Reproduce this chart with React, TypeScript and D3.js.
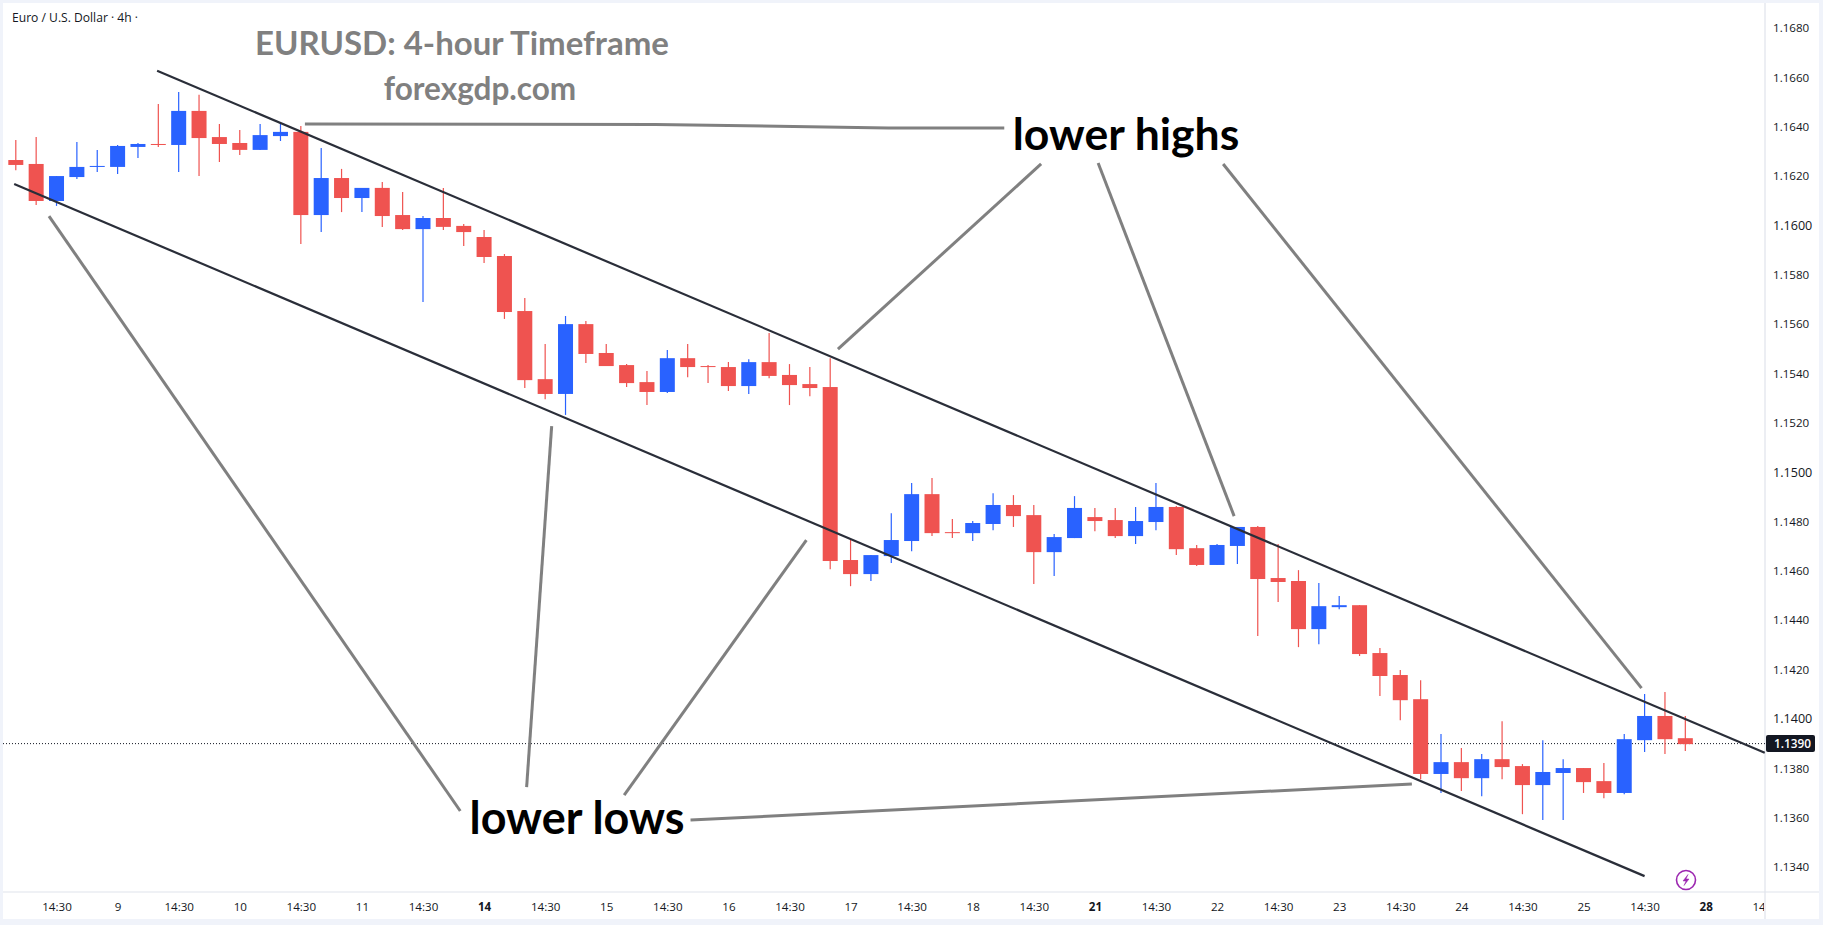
import { useEffect, useRef } from 'react';
import * as d3 from 'd3';

// 4h candles
const opens = [
  1.16265, 1.16249, 1.16099, 1.16196, 1.16237, 1.16237, 1.16318, 1.1633, 1.16326, 1.16464,
  1.16358, 1.16334, 1.16306, 1.16362, 1.16379, 1.16042, 1.16192, 1.16111, 1.16152, 1.16042,
  1.15985, 1.1603, 1.15998, 1.15953, 1.15876, 1.15653, 1.15377, 1.15317, 1.156, 1.15483,
  1.15434, 1.15365, 1.15325, 1.15462, 1.1543, 1.15426, 1.15349, 1.15446, 1.15394, 1.15357,
  1.15345, 1.14644, 1.14587, 1.1466, 1.14721, 1.14911, 1.14757, 1.14753, 1.1479, 1.14867,
  1.14826, 1.14676, 1.14733, 1.14818, 1.14806, 1.14741, 1.14798, 1.14859, 1.14692, 1.14624,
  1.14701, 1.14778, 1.14571, 1.14559, 1.14364, 1.14453, 1.14461, 1.14267, 1.14178, 1.1408,
  1.13777, 1.13825, 1.1376, 1.13837, 1.13809, 1.13732, 1.13781, 1.13801, 1.13748, 1.137,
  1.13914, 1.14012, 1.13922,
];
const highs = [
  1.16346, 1.16358, 1.162, 1.16338, 1.16306, 1.16326, 1.16334, 1.16492, 1.16541, 1.16529,
  1.16411, 1.16387, 1.16411, 1.16415, 1.16403, 1.16314, 1.16229, 1.16152, 1.16176, 1.16135,
  1.16038, 1.16152, 1.16006, 1.15981, 1.15884, 1.15706, 1.15519, 1.15633, 1.15613, 1.15519,
  1.15438, 1.1541, 1.15495, 1.15519, 1.15434, 1.15446, 1.15458, 1.15564, 1.15438, 1.15426,
  1.15462, 1.14729, 1.14664, 1.14834, 1.14956, 1.14976, 1.1481, 1.14802, 1.14915, 1.14907,
  1.14867, 1.14749, 1.14903, 1.14855, 1.14855, 1.14859, 1.14956, 1.14863, 1.14705, 1.14709,
  1.14778, 1.14782, 1.14709, 1.14603, 1.14551, 1.14498, 1.14461, 1.14287, 1.14198, 1.14157,
  1.13939, 1.13882, 1.13858, 1.13991, 1.13817, 1.13914, 1.13837, 1.13801, 1.13821, 1.13939,
  1.14101, 1.14109, 1.14012,
];
const lows = [
  1.16224, 1.16083, 1.16079, 1.16188, 1.16216, 1.16208, 1.16273, 1.16318, 1.16216, 1.162,
  1.16257, 1.16285, 1.16306, 1.16342, 1.15925, 1.15973, 1.16054, 1.16054, 1.15994, 1.15981,
  1.1569, 1.15981, 1.15917, 1.15848, 1.15621, 1.15341, 1.15296, 1.15232, 1.15442, 1.1543,
  1.15345, 1.15272, 1.15321, 1.15385, 1.15361, 1.15329, 1.15317, 1.15381, 1.15272, 1.15308,
  1.14607, 1.14538, 1.14559, 1.14632, 1.1468, 1.14741, 1.14733, 1.14721, 1.14765, 1.14778,
  1.14547, 1.14579, 1.14733, 1.14761, 1.14733, 1.14709, 1.14765, 1.14664, 1.1462, 1.14624,
  1.14628, 1.14336, 1.14474, 1.14291, 1.14303, 1.14445, 1.14255, 1.14093, 1.13995, 1.13756,
  1.137, 1.13708, 1.13687, 1.13756, 1.13614, 1.1359, 1.1359, 1.137, 1.13679, 1.13695,
  1.13866, 1.13858, 1.1387,
];
const closes = [
  1.16245, 1.16099, 1.162, 1.16237, 1.16241, 1.16322, 1.1633, 1.16326, 1.16464, 1.16354,
  1.1633, 1.16306, 1.16366, 1.16379, 1.16042, 1.16192, 1.16111, 1.16152, 1.16038, 1.15985,
  1.1603, 1.15994, 1.15973, 1.15872, 1.15649, 1.15373, 1.15317, 1.156, 1.15479, 1.1543,
  1.15361, 1.15325, 1.15462, 1.15426, 1.15426, 1.15349, 1.15446, 1.1539, 1.15353, 1.15341,
  1.1464, 1.14587, 1.14664, 1.14725, 1.14911, 1.14753, 1.14753, 1.14794, 1.14867, 1.14822,
  1.14676, 1.14737, 1.14855, 1.14802, 1.14741, 1.14802, 1.14859, 1.14688, 1.14624, 1.14705,
  1.14778, 1.14567, 1.14555, 1.14364, 1.14457, 1.14461, 1.14263, 1.14174, 1.14076, 1.13777,
  1.13825, 1.1376, 1.13837, 1.13805, 1.13732, 1.13785, 1.13801, 1.13744, 1.137, 1.13918,
  1.14012, 1.13918, 1.13898,
];

const priceTicks = d3.range(1.134, 1.1681, 0.002);
const lastPrice = 1.139;

const timeTickBars = d3.range(2, 87, 3);
const timeTickLabels = [
  '14:30', '9', '14:30', '10', '14:30', '11', '14:30', '14', '14:30', '15',
  '14:30', '16', '14:30', '17', '14:30', '18', '14:30', '21', '14:30', '22',
  '14:30', '23', '14:30', '24', '14:30', '25', '14:30', '28', '14:30',
];
const boldTimeLabels = ['14', '21', '28'];

// drawings as [bar, price]
const channelLines: [number, number][][] = [
  [[6.94, 1.16627], [85.9, 1.13863]],
  [[-0.08, 1.16168], [80.0, 1.13363]],
];
const calloutLines: [number, number][][] = [
  [[14.2, 1.16411], [31.42, 1.16409], [42.86, 1.16395], [48.55, 1.16395]],
  [[40.38, 1.15499], [50.36, 1.16249]],
  [[53.16, 1.16253], [59.84, 1.14822]],
  [[59.3, 1.16249], [79.85, 1.14125]],
  [[1.63, 1.16038], [21.83, 1.13627]],
  [[26.32, 1.15187], [25.09, 1.13724]],
  [[38.83, 1.14725], [29.88, 1.13691]],
  [[33.14, 1.1359], [68.57, 1.13736]],
];

const UP = '#2962ff';
const DOWN = '#ef5350';
const INK = '#131722';
const FRAME = '#e0e3eb';
const SANS = '"Open Sans", "Noto Sans", sans-serif';
const W = 1823;
const H = 925;
const plotRight = 1765;
const plotBottom = 892;

const x = d3.scaleLinear().domain([0, 82]).range([15.8, 15.8 + 82 * 20.36]);
const y = d3.scaleLinear().domain([1.134, 1.168]).range([867, 28]);
const bodyWidth = 15;

const line = d3
  .line<[number, number]>()
  .x((d) => x(d[0]))
  .y((d) => y(d[1]));

export default function App() {
  const gy = useRef<SVGGElement>(null);
  const gx = useRef<SVGGElement>(null);

  useEffect(() => {
    if (!gy.current) return;
    const g = d3.select(gy.current);
    g.call(
      d3
        .axisRight(y)
        .tickValues(priceTicks)
        .tickSize(0)
        .tickPadding(8)
        .tickFormat((d) => (d as number).toFixed(4)),
    );
    g.select('.domain').remove();
    g.selectAll('text')
      .attr('fill', INK)
      .style('font-family', SANS)
      .style('font-size', (d) => (Math.round((d as number) * 1e4) % 100 === 0 ? '12.6px' : '11.6px'));
  }, []);

  useEffect(() => {
    if (!gx.current) return;
    const g = d3.select(gx.current);
    g.call(
      d3
        .axisBottom(x)
        .tickValues(timeTickBars)
        .tickSize(0)
        .tickPadding(11)
        .tickFormat((_, i) => timeTickLabels[i]),
    );
    g.select('.domain').remove();
    g.selectAll<SVGTextElement, number>('text')
      .attr('fill', INK)
      .style('font-family', SANS)
      .style('font-size', '11.6px')
      .style('font-weight', (_, i) => (boldTimeLabels.includes(timeTickLabels[i]) ? 700 : 400));
  }, []);

  return (
    <svg
      width={W}
      height={H}
      viewBox={`0 0 ${W} ${H}`}
      style={{ position: 'absolute', left: 0, top: 0, display: 'block' }}
    >
      <title>EURUSD 4-hour candlestick chart with a falling channel</title>
      <defs>
        <clipPath id="plot">
          <rect x={0} y={0} width={plotRight - 1} height={H} />
        </clipPath>
      </defs>
      <rect width={W} height={H} fill="#f0f3fa" />
      <rect x={3} y={3} width={1816} height={916} fill="#fff" />
      <line x1={plotRight} x2={plotRight} y1={3} y2={919} stroke={FRAME} strokeWidth={1.2} />
      <line x1={3} x2={1819} y1={plotBottom} y2={plotBottom} stroke={FRAME} strokeWidth={1.2} />

      <line
        x1={3}
        x2={plotRight}
        y1={y(lastPrice)}
        y2={y(lastPrice)}
        stroke={INK}
        strokeWidth={1}
        strokeDasharray="1 2"
      />

      {opens.map((open, i) => {
        const close = closes[i];
        const color = close > open ? UP : DOWN;
        const top = y(Math.max(open, close));
        const bottom = y(Math.min(open, close));
        return (
          <g key={i} fill={color}>
            <line x1={x(i)} x2={x(i)} y1={y(highs[i])} y2={y(lows[i])} stroke={color} strokeWidth={1.2} />
            <rect x={x(i) - bodyWidth / 2} y={top} width={bodyWidth} height={Math.max(1, bottom - top)} />
          </g>
        );
      })}

      {channelLines.map((pts, i) => (
        <path key={i} d={line(pts)!} fill="none" stroke="#2a2e39" strokeWidth={2.2} />
      ))}
      {calloutLines.map((pts, i) => (
        <path key={i} d={line(pts)!} fill="none" stroke="#808080" strokeWidth={3} />
      ))}

      <g ref={gy} transform={`translate(${plotRight},0)`} />
      <g clipPath="url(#plot)">
        <g ref={gx} transform={`translate(0,${plotBottom})`} />
      </g>

      <rect x={plotRight + 1} y={y(lastPrice) - 8.5} width={49} height={17} rx={2} fill={INK} />
      <text
        x={plotRight + 9}
        y={y(lastPrice) + 4.2}
        fill="#fff"
        fontFamily={SANS}
        fontSize={11.8}
        fontWeight={600}
      >
        {lastPrice.toFixed(4)}
      </text>

      <text x={12} y={22} fill={INK} fontFamily={SANS} fontSize={12.1}>
        Euro / U.S. Dollar · 4h ·
      </text>

      <g fontFamily="Lato, sans-serif" fontWeight={700} textAnchor="middle">
        <text x={462} y={55} fill="#808080" fontSize={33}>
          EURUSD: 4-hour Timeframe
        </text>
        <text x={480} y={100} fill="#808080" fontSize={31.5}>
          forexgdp.com
        </text>
        <text x={1126} y={150} fill="#000" fontSize={44.5}>
          lower highs
        </text>
        <text x={577} y={834} fill="#000" fontSize={44.9}>
          lower lows
        </text>
      </g>

      <g transform="translate(1686,880)" fill="none" stroke="#9c27b0">
        <circle r={9.5} strokeWidth={1.6} />
        <path d="M2,-5.5 L-3,1 L0,1 L-2,5.5 L3,-1 L0,-1 Z" fill="#9c27b0" strokeWidth={0.5} />
      </g>
    </svg>
  );
}
